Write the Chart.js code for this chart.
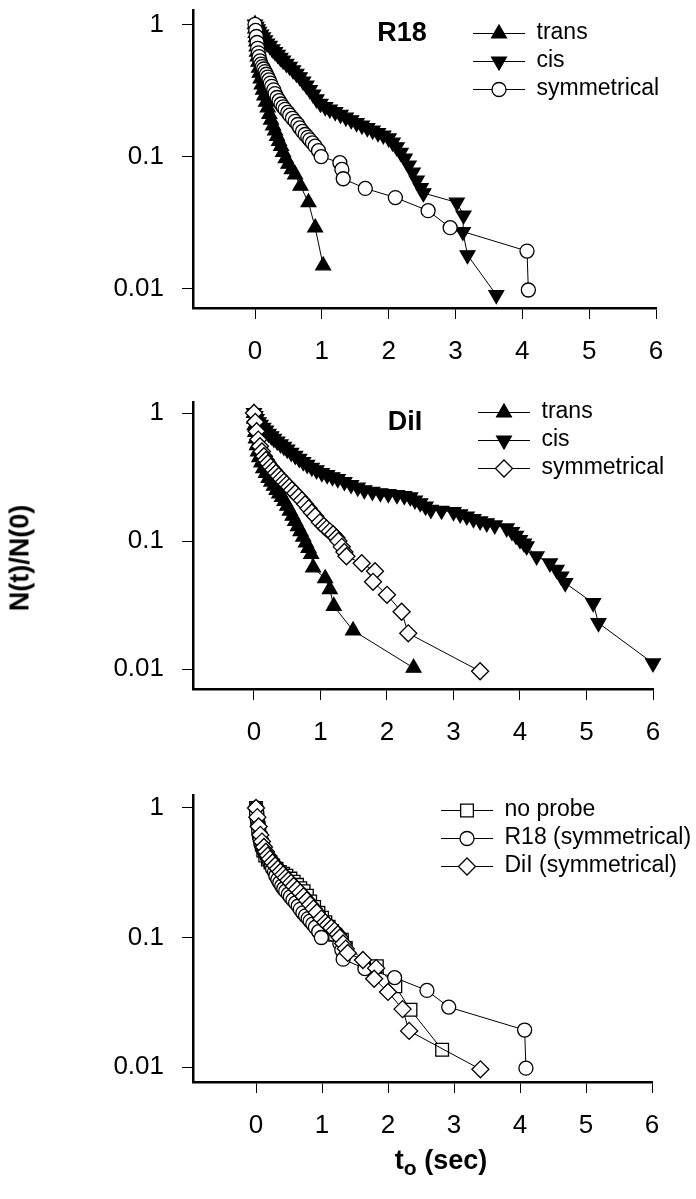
<!DOCTYPE html>
<html><head><meta charset="utf-8">
<script src="https://cdn.jsdelivr.net/npm/chart.js@4.4.1/dist/chart.umd.min.js"></script>
<style>
html,body{margin:0;padding:0;background:#fff;}
#fig{position:relative;width:696px;height:1199px;overflow:hidden;font-family:'Liberation Sans',Arial,sans-serif;color:#000;background:#fff;}
canvas{position:absolute;left:0;}
.lbl{position:absolute;font-weight:bold;font-size:27px;line-height:1;white-space:nowrap;transform:translate(-50%,-50%);}
.lbl sub{font-size:0.78em;vertical-align:-0.32em;line-height:0;}
</style></head><body>
<div id="fig">
<canvas id="c1" width="696" height="380" style="top:0px"></canvas>
<canvas id="c2" width="696" height="380" style="top:390px"></canvas>
<canvas id="c3" width="696" height="380" style="top:780px"></canvas>
<div class="lbl" style="left:402px;top:32px">R18</div>
<div class="lbl" style="left:405px;top:421px">DiI</div>
<div class="lbl" style="left:20px;top:558px;transform:translate(-50%,-50%) rotate(-90deg)">N(t)/N(0)</div>
<div class="lbl" style="left:441px;top:1160px">t<sub>o</sub> (sec)</div>
</div>
<script>
// ---- tick labels ----
const xTicks = [0, 1, 2, 3, 4, 5, 6];
const yTicks = [0.01, 0.1, 1];
const yTickLabels = ['0.01', '0.1', '1'];

// ---- legend labels ----
const legendR18 = ['trans', 'cis', 'symmetrical'];
const legendDiI = ['trans', 'cis', 'symmetrical'];
const legendCompare = ['no probe', 'R18 (symmetrical)', 'DiI (symmetrical)'];

// ---- data: [t0 (sec), N(t)/N(0)] ----
const r18Trans = [[0,1.0],[0.005,0.93],[0.01,0.86],[0.015,0.80],[0.02,0.74],[0.025,0.68],[0.03,0.62],[0.04,0.57],[0.05,0.52],[0.06,0.47],[0.07,0.43],[0.085,0.39],[0.10,0.35],[0.12,0.32],[0.14,0.29],[0.165,0.26],[0.19,0.235],[0.215,0.21],[0.24,0.19],[0.27,0.172],[0.30,0.157],[0.33,0.143],[0.36,0.131],[0.39,0.12],[0.42,0.108],[0.46,0.097],[0.50,0.088],[0.55,0.08],[0.60,0.073],[0.68,0.06],[0.80,0.045],[0.90,0.029],[1.02,0.015]];
const r18Cis = [[0,1.0],[0.02,0.96],[0.04,0.92],[0.06,0.88],[0.09,0.84],[0.12,0.80],[0.15,0.76],[0.18,0.72],[0.22,0.69],[0.26,0.65],[0.30,0.62],[0.34,0.59],[0.38,0.56],[0.42,0.535],[0.47,0.505],[0.52,0.48],[0.57,0.45],[0.62,0.425],[0.67,0.40],[0.72,0.37],[0.77,0.345],[0.82,0.32],[0.87,0.295],[0.92,0.272],[0.98,0.252],[1.05,0.238],[1.12,0.228],[1.20,0.218],[1.28,0.208],[1.36,0.198],[1.44,0.189],[1.52,0.18],[1.60,0.172],[1.68,0.165],[1.76,0.158],[1.84,0.151],[1.92,0.145],[2.00,0.138],[2.06,0.128],[2.12,0.118],[2.18,0.107],[2.24,0.097],[2.30,0.086],[2.36,0.076],[2.42,0.066],[2.48,0.058],[2.52,0.053],[3.02,0.045],[3.12,0.036],[3.11,0.027],[3.18,0.018],[3.61,0.009]];
const r18Sym = [[0,1.0],[0.01,0.9],[0.02,0.81],[0.03,0.73],[0.04,0.66],[0.05,0.61],[0.06,0.57],[0.075,0.53],[0.09,0.50],[0.11,0.48],[0.13,0.46],[0.15,0.44],[0.17,0.42],[0.19,0.40],[0.21,0.38],[0.23,0.36],[0.25,0.34],[0.28,0.32],[0.30,0.30],[0.33,0.28],[0.36,0.265],[0.39,0.25],[0.42,0.238],[0.45,0.228],[0.49,0.216],[0.52,0.206],[0.56,0.195],[0.60,0.185],[0.64,0.175],[0.67,0.165],[0.71,0.155],[0.75,0.147],[0.79,0.14],[0.82,0.134],[0.86,0.127],[0.90,0.12],[0.95,0.111],[0.99,0.10],[1.27,0.09],[1.30,0.08],[1.32,0.068],[1.65,0.0575],[2.10,0.049],[2.59,0.039],[2.92,0.029],[4.07,0.0193],[4.09,0.0098]];
const dilTrans = [[0,1.0],[0.005,0.9],[0.01,0.8],[0.02,0.71],[0.03,0.63],[0.045,0.56],[0.06,0.5],[0.08,0.45],[0.11,0.41],[0.14,0.37],[0.18,0.34],[0.22,0.31],[0.26,0.29],[0.30,0.27],[0.34,0.25],[0.38,0.235],[0.42,0.22],[0.46,0.205],[0.50,0.188],[0.54,0.172],[0.58,0.157],[0.62,0.143],[0.66,0.13],[0.70,0.119],[0.74,0.108],[0.78,0.097],[0.82,0.088],[0.86,0.079],[0.89,0.062],[1.07,0.051],[1.14,0.042],[1.20,0.031],[1.49,0.020],[2.40,0.0102]];
const dilCis = [[0,1.0],[0.02,0.95],[0.04,0.9],[0.07,0.85],[0.10,0.81],[0.14,0.77],[0.18,0.73],[0.22,0.69],[0.26,0.66],[0.30,0.63],[0.35,0.60],[0.40,0.57],[0.45,0.545],[0.50,0.52],[0.56,0.49],[0.62,0.465],[0.68,0.44],[0.74,0.415],[0.80,0.395],[0.87,0.375],[0.94,0.358],[1.02,0.34],[1.10,0.328],[1.18,0.316],[1.26,0.305],[1.36,0.29],[1.46,0.275],[1.56,0.262],[1.66,0.25],[1.78,0.243],[1.90,0.237],[2.02,0.233],[2.15,0.229],[2.26,0.225],[2.35,0.22],[2.42,0.208],[2.50,0.198],[2.58,0.186],[2.66,0.176],[2.82,0.173],[3.00,0.169],[3.10,0.162],[3.20,0.156],[3.30,0.149],[3.40,0.143],[3.50,0.138],[3.62,0.133],[3.80,0.126],[3.88,0.118],[3.94,0.11],[4.00,0.102],[4.06,0.096],[4.10,0.091],[4.25,0.076],[4.45,0.067],[4.55,0.0597],[4.62,0.053],[4.68,0.047],[5.10,0.0328],[5.18,0.0229],[6.0,0.0111]];
const dilSym = [[0,1.0],[0.02,0.85],[0.04,0.72],[0.065,0.62],[0.09,0.55],[0.12,0.50],[0.15,0.46],[0.18,0.43],[0.21,0.405],[0.25,0.38],[0.29,0.36],[0.33,0.34],[0.37,0.322],[0.41,0.306],[0.45,0.29],[0.49,0.277],[0.53,0.264],[0.57,0.25],[0.62,0.236],[0.67,0.222],[0.72,0.208],[0.77,0.194],[0.82,0.18],[0.87,0.167],[0.92,0.156],[0.99,0.14],[1.05,0.131],[1.09,0.125],[1.14,0.119],[1.19,0.113],[1.24,0.106],[1.27,0.10],[1.32,0.09],[1.36,0.082],[1.39,0.076],[1.62,0.067],[1.82,0.058],[1.79,0.048],[2.0,0.038],[2.22,0.028],[2.32,0.019],[3.40,0.0096]];
const noProbe = [[0,1.0],[0.01,0.92],[0.02,0.84],[0.03,0.77],[0.04,0.70],[0.05,0.64],[0.07,0.58],[0.09,0.52],[0.11,0.47],[0.14,0.43],[0.18,0.40],[0.22,0.38],[0.26,0.36],[0.31,0.34],[0.36,0.32],[0.41,0.31],[0.46,0.30],[0.52,0.285],[0.57,0.27],[0.62,0.255],[0.67,0.24],[0.72,0.228],[0.77,0.21],[0.82,0.19],[0.88,0.172],[0.945,0.155],[1.0,0.142],[1.05,0.131],[1.10,0.121],[1.15,0.112],[1.20,0.105],[1.30,0.096],[1.36,0.083],[1.83,0.060],[2.11,0.042],[2.34,0.0277],[2.82,0.0136]];

const FONT = "'Liberation Sans', Arial, sans-serif";
const STY = {
  up:      {pointStyle: 'triangle', rotation: 0,   radius: 8.5, fill: '#000'},
  down:    {pointStyle: 'triangle', rotation: 180, radius: 8.5, fill: '#000'},
  circle:  {pointStyle: 'circle',   rotation: 0,   radius: 7,   fill: '#fff'},
  diamond: {pointStyle: 'rectRot',  rotation: 0,   radius: 8.5, fill: '#fff'},
  square:  {pointStyle: 'rect',     rotation: 0,   radius: 9,   fill: '#fff'}
};

function pts(arr) { return arr.map(p => ({x: p[0], y: p[1]})); }

function ds(label, data, st) {
  return {
    label, data: pts(data), showLine: true, tension: 0, fill: false, clip: false,
    borderColor: '#000', borderWidth: 1, backgroundColor: st.fill,
    pointStyle: st.pointStyle, pointRotation: st.rotation, pointRadius: st.radius,
    pointHoverRadius: st.radius, pointBackgroundColor: st.fill,
    pointBorderColor: '#000', pointBorderWidth: 1.3
  };
}

function markerImage(st) {
  const c = document.createElement('canvas');
  c.width = 52; c.height = 24;
  const g = c.getContext('2d');
  g.strokeStyle = '#000'; g.lineWidth = 1;
  g.beginPath(); g.moveTo(0, 12.5); g.lineTo(52, 12.5); g.stroke();
  g.save(); g.translate(26, 12.5); g.rotate(st.rotation * Math.PI / 180);
  const r = st.radius;
  g.beginPath();
  if (st.pointStyle === 'triangle') {
    g.moveTo(0, -r); g.lineTo(0.866 * r, 0.5 * r); g.lineTo(-0.866 * r, 0.5 * r); g.closePath();
  } else if (st.pointStyle === 'circle') {
    g.arc(0, 0, r, 0, Math.PI * 2);
  } else if (st.pointStyle === 'rectRot') {
    g.moveTo(-r, 0); g.lineTo(0, -r); g.lineTo(r, 0); g.lineTo(0, r); g.closePath();
  } else {
    const s = r * Math.SQRT1_2; g.rect(-s, -s, 2 * s, 2 * s);
  }
  g.fillStyle = st.fill; g.fill();
  g.lineWidth = 1.3; g.strokeStyle = '#000'; g.stroke();
  g.restore();
  return c;
}

function makeChart(id, datasets, legendTexts, legendStyles, cfg) {
  const legendPos = {
    id: 'legendPos',
    afterLayout(chart) {
      const lg = chart.legend; if (!lg) return;
      const w = lg.width, h = lg.height;
      lg.left = cfg.legendLeft; lg.top = cfg.legendTop;
      lg.right = lg.left + w; lg.bottom = lg.top + h;
    }
  };
  const gridOpts = {display: true, drawOnChartArea: false, drawTicks: true, tickLength: 11,
                    tickColor: '#000', tickWidth: 1, color: '#000', lineWidth: 1};
  const borderOpts = {display: true, color: '#000', width: 2.5};
  return new Chart(document.getElementById(id), {
    type: 'scatter',
    data: {datasets},
    options: {
      responsive: false, animation: false, devicePixelRatio: 1, events: [],
      layout: {padding: {left: 0, right: cfg.padRight, top: cfg.padTop, bottom: 0}},
      plugins: {
        tooltip: {enabled: false},
        legend: {
          position: 'chartArea', align: 'start',
          labels: {
            usePointStyle: true, pointStyleWidth: 52, padding: 5, color: '#000',
            font: {family: FONT, size: 23},
            generateLabels: () => legendTexts.map((t, i) => ({
              text: t, pointStyle: markerImage(legendStyles[i]), fillStyle: '#000',
              strokeStyle: '#000', lineWidth: 0, hidden: false, datasetIndex: i, fontColor: '#000'
            }))
          }
        }
      },
      scales: {
        x: {
          type: 'linear', position: 'bottom', min: cfg.xMin, max: 6,
          afterBuildTicks: s => { s.ticks = xTicks.map(v => ({value: v})); },
          afterFit: s => { s.height = cfg.xAxisH; s.paddingLeft = 0; s.paddingRight = 0; },
          ticks: {color: '#000', font: {family: FONT, size: 26}, padding: 17, maxRotation: 0,
                  autoSkip: false, callback: v => String(v)},
          grid: gridOpts, border: borderOpts
        },
        y: {
          type: 'logarithmic', position: 'left', min: cfg.yMin, max: cfg.yMax,
          afterBuildTicks: s => { s.ticks = yTicks.map(v => ({value: v})); },
          afterFit: s => { s.width = 193; s.paddingTop = 0; s.paddingBottom = 0; },
          ticks: {color: '#000', font: {family: FONT, size: 26}, padding: 18, autoSkip: false,
                  callback: v => { const i = yTicks.indexOf(v); return i >= 0 ? yTickLabels[i] : ''; }},
          grid: gridOpts, border: borderOpts
        }
      }
    },
    plugins: [legendPos]
  });
}

// Panel 1: R18 (symmetrical drawn on top)
makeChart('c1',
  [ds('symmetrical', r18Sym, STY.circle), ds('cis', r18Cis, STY.down), ds('trans', r18Trans, STY.up)],
  legendR18, [STY.up, STY.down, STY.circle],
  {padTop: 8, padRight: 40, xAxisH: 72, xMin: -0.928, yMin: 0.00716, yMax: 1.29, legendLeft: 468, legendTop: 16.5});

// Panel 2: DiI
makeChart('c2',
  [ds('symmetrical', dilSym, STY.diamond), ds('cis', dilCis, STY.down), ds('trans', dilTrans, STY.up)],
  legendDiI, [STY.up, STY.down, STY.diamond],
  {padTop: 12, padRight: 43, xAxisH: 81, xMin: -0.917, yMin: 0.00698, yMax: 1.219, legendLeft: 473, legendTop: 5.5});

// Panel 3: comparison of symmetrical cases
makeChart('c3',
  [ds('DiI (symmetrical)', dilSym, STY.diamond), ds('R18 (symmetrical)', r18Sym, STY.circle), ds('no probe', noProbe, STY.square)],
  legendCompare, [STY.square, STY.circle, STY.diamond],
  {padTop: 15, padRight: 44, xAxisH: 78, xMin: -0.955, yMin: 0.00766, yMax: 1.26, legendLeft: 436, legendTop: 13.5});
</script>
</body></html>
